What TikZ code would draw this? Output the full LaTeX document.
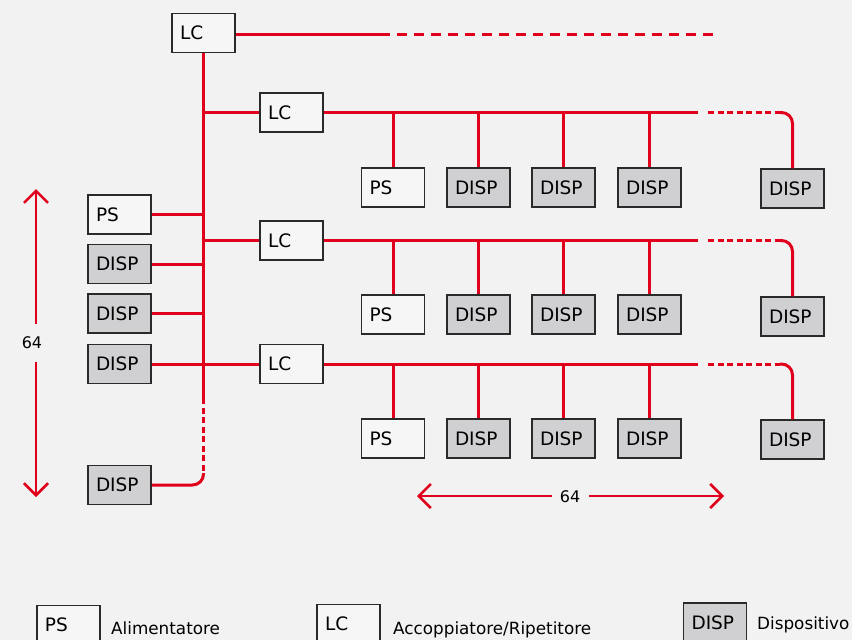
\documentclass[tikz,border=0pt]{standalone}
\usepackage{fontspec}
\setmainfont{DejaVu Sans}
\usetikzlibrary{arrows.meta}

\definecolor{bg}{HTML}{F2F2F2}
\definecolor{busred}{HTML}{E0001B}
\definecolor{devgray}{HTML}{D0D0D2}
\definecolor{edge}{HTML}{2A2A2A}
\definecolor{paper}{HTML}{F6F6F6}

\begin{document}
\begin{tikzpicture}[x=1pt,y=-1pt,
  unit/.style={draw=edge, line width=1.5pt, minimum height=39pt,
    text width=47pt, inner xsep=8pt, inner ysep=2pt, align=left,
    font=\fontsize{18.5}{20}\selectfont},
  plain/.style={unit, fill=paper},
  dev/.style={unit, fill=devgray},
  bus/.style={busred, line width=3pt},
  busdots/.style={bus, dash pattern=on 6pt off 3.5pt},
  busdash/.style={bus, dash pattern=on 10pt off 7pt},
  span/.style={busred, line width=2.6pt, -{Straight Barb[length=12pt,width=24pt]}},
  spanlabel/.style={font=\fontsize{16}{18}\selectfont, inner sep=0pt},
  legendtext/.style={anchor=base west, inner sep=0pt,
    font=\fontsize{16.8}{19}\selectfont}]

  % canvas
  \useasboundingbox (0,0) rectangle (852,640);
  \clip (0,0) rectangle (852,640);
  \fill[bg] (0,0) rectangle (852,640);

  % main line coupler and its line
  \node[plain] (lc0) at (203.5,33) {LC};
  \coordinate (topsolid) at (390,34);
  \coordinate (topdash) at (397,34);
  \coordinate (topend) at (720,34);
  \draw[bus] (lc0.east |- topsolid) -- (topsolid);
  \draw[busdash] (topdash) -- (topend);

  % devices on the main line
  \node[plain] (lp0) at (119.5,214.5) {PS};
  \node[dev] (lp1) at (119.5,264) {DISP};
  \node[dev] (lp2) at (119.5,313.5) {DISP};
  \node[dev] (lp3) at (119.5,364) {DISP};
  \node[dev] (lpn) at (119.5,485) {DISP};

  \coordinate (trunksolid) at (203.5,398);
  \coordinate (trunkdots) at (203.5,473);
  \draw[bus] (lc0.south) -- (trunksolid);
  \draw[busdots] (trunksolid) -- (trunkdots);
  \draw[bus, rounded corners=11pt] (trunkdots) -- (lpn.east -| trunkdots) -- (lpn.east);
  \foreach \j in {0,1,2,3}
    \draw[bus] (lp\j.east) -- (lp\j.east -| lc0.south);

  % line couplers with their lines
  \foreach \i/\by/\ry/\ey in {1/112.5/187.5/188.5, 2/240.5/314.5/316.5, 3/364/438.5/439.5} {
    \node[plain] (lc\i) at (291.5,\by) {LC};
    \node[plain] (ps\i) at (393,\ry) {PS};
    \node[dev] (da\i) at (478.5,\ry) {DISP};
    \node[dev] (db\i) at (563.5,\ry) {DISP};
    \node[dev] (dc\i) at (649.5,\ry) {DISP};
    \node[dev] (de\i) at (792.5,\ey) {DISP};
    \coordinate (sol\i) at (698,\by);
    \coordinate (dot\i) at (708,\by);
    \coordinate (dotend\i) at (780,\by);
    \draw[bus] (lc\i.west -| lc0.south) -- (lc\i.west);
    \draw[bus] (lc\i.east) -- (sol\i);
    \draw[busdots] (dot\i) -- (dotend\i);
    \draw[bus, rounded corners=11pt] (dotend\i) -- (dotend\i -| de\i.north) -- (de\i.north);
    \foreach \d in {ps,da,db,dc}
      \draw[bus] (\d\i.north |- lc\i.east) -- (\d\i.north);
  }

  % vertical span: 64 devices
  \node[spanlabel] (vlab) at (32,343) {64};
  \coordinate (vtop) at (36,189);
  \coordinate (vgapa) at (36,324);
  \coordinate (vgapb) at (36,362);
  \coordinate (vbot) at (36,497);
  \draw[span] (vgapa) -- (vtop);
  \draw[span] (vgapb) -- (vbot);

  % horizontal span: 64 devices
  \node[spanlabel] (hlab) at (570,497) {64};
  \coordinate (hleft) at (417,496);
  \coordinate (hgapa) at (552,496);
  \coordinate (hgapb) at (589,496);
  \coordinate (hright) at (724,496);
  \draw[span] (hgapa) -- (hleft);
  \draw[span] (hgapb) -- (hright);

  % legend
  \node[plain] (kps) at (68.5,625) {PS};
  \node[legendtext] (kpst) at (111,634) {Alimentatore};
  \node[plain] (klc) at (348.5,624) {LC};
  \node[legendtext] (klct) at (393,634) {Accoppiatore/Ripetitore};
  \node[dev] (kdev) at (715,622.5) {DISP};
  \node[legendtext] (kdevt) at (757,629) {Dispositivo};
\end{tikzpicture}
\end{document}
